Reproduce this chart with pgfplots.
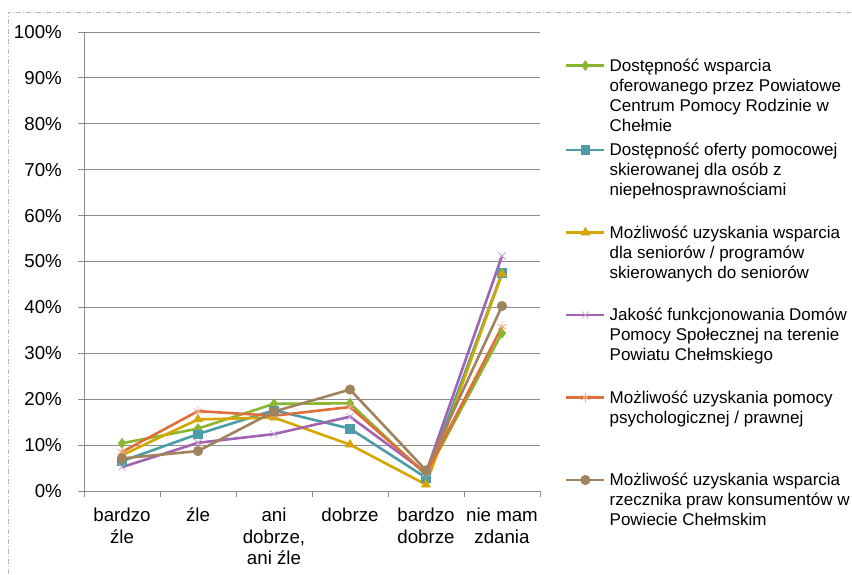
\documentclass[border=0pt]{standalone}
\usepackage{pgfplots}
\pgfplotsset{compat=1.18}
\usepackage{fontspec}
\setmainfont{Liberation Sans}
\definecolor{cgreen}{HTML}{89B830}
\definecolor{cteal}{HTML}{4B9EA8}
\definecolor{cgold}{HTML}{D4A600}
\definecolor{cpurple}{HTML}{A064B0}
\definecolor{corange}{HTML}{DE6E3C}
\definecolor{cbrown}{HTML}{A0825F}
\definecolor{cgrid}{HTML}{8C8C8C}
\newcommand{\lent}[2][81pt]{\rule{0pt}{#1}\parbox[t]{240pt}{\raggedright #2}}
\begin{document}
\begin{tikzpicture}
\useasboundingbox (0,0) rectangle (852pt,574pt);
\draw[gray!55, line width=0.6pt, dash pattern=on 5pt off 2pt on 1pt off 2pt] (8pt,0pt) -- (8pt,562pt) -- (852pt,562pt);
\begin{axis}[
  at={(84pt,83pt)}, anchor=south west,
  scale only axis, width=456pt, height=459pt,
  xmin=0.5, xmax=6.5, ymin=0, ymax=100,
  xtick={1,...,6},
  xticklabels={{bardzo\\źle},{źle},{ani\\dobrze,\\ani źle},{dobrze},{bardzo\\dobrze},{nie mam\\zdania}},
  minor xtick={0.5,1.5,...,6.5},
  ytick={0,10,...,100},
  yticklabel={\pgfmathprintnumber{\tick}\%},
  /pgf/number format/assume math mode=true,
  tick label style={font=\fontsize{18.7}{21.4}\selectfont, black},
  xticklabel style={align=center, anchor=north, inner sep=0pt, yshift=-11pt},
  yticklabel style={anchor=east, inner sep=0pt, xshift=-16pt},
  ymajorgrids, major grid style={cgrid, line width=0.9pt},
  axis line style={cgrid, line width=0.9pt},
  axis x line*=bottom, axis y line*=left,
  major x tick style={draw=none},
  minor x tick style={cgrid, line width=0.9pt},
  major y tick style={cgrid, line width=0.9pt},
  tick align=outside, major tick length=6pt, minor tick length=6pt,
  clip=false,
  every axis plot/.append style={line width=2.6pt},
  legend image code/.code={\draw[mark repeat=2,mark phase=2] plot coordinates {(0pt,5.5pt) (19pt,5.5pt) (38pt,5.5pt)};},
  legend cell align=left,
  legend style={at={(axis description cs:1.055,0.9455)}, anchor=north west, draw=none, fill=none,
    inner sep=0pt, outer sep=0pt, row sep=0pt, column sep=4pt,
    font=\fontsize{17}{20}\selectfont, nodes={inner sep=0pt}, cells={anchor=base west}},
]
\addplot[cgreen, mark=diamond*, mark size=5pt, mark options={solid, line width=0.5pt}] coordinates {(1,10.4) (2,13.6) (3,19.0) (4,19.1) (5,3.5) (6,34.4)};
\addlegendentry{\lent[14pt]{Dostępność wsparcia\\oferowanego przez Powiatowe\\Centrum Pomocy Rodzinie w\\Chełmie}}
\addplot[cteal, mark=square*, mark size=4.3pt, mark options={solid, line width=0.5pt}] coordinates {(1,6.5) (2,12.4) (3,17.6) (4,13.6) (5,2.9) (6,47.5)};
\addlegendentry{\lent[83pt]{Dostępność oferty pomocowej\\skierowanej dla osób z\\niepełnosprawnościami}}
\addplot[cgold, mark=triangle*, mark size=5.2pt, mark options={solid, line width=0.5pt}] coordinates {(1,7.8) (2,15.6) (3,16.0) (4,10.1) (5,1.4) (6,47.3)};
\addlegendentry{\lent{Możliwość uzyskania wsparcia\\dla seniorów / programów\\skierowanych do seniorów}}
\addplot[cpurple, mark=x, mark size=5pt, mark options={solid, line width=0.8pt, draw=cpurple!60}] coordinates {(1,5.2) (2,10.5) (3,12.4) (4,16.2) (5,4.0) (6,51.2)};
\addlegendentry{\lent{Jakość funkcjonowania Domów\\Pomocy Społecznej na terenie\\Powiatu Chełmskiego}}
\addplot[corange, mark=asterisk, mark size=5pt, mark options={solid, line width=0.8pt, draw=corange!60}] coordinates {(1,8.5) (2,17.4) (3,16.4) (4,18.3) (5,3.8) (6,35.8)};
\addlegendentry{\lent{Możliwość uzyskania pomocy\\psychologicznej / prawnej}}
\addplot[cbrown, mark=*, mark size=4.8pt, mark options={solid, line width=0.5pt}] coordinates {(1,7.1) (2,8.7) (3,17.3) (4,22.1) (5,4.5) (6,40.3)};
\addlegendentry{\lent{Możliwość uzyskania wsparcia\\rzecznika praw konsumentów w\\Powiecie Chełmskim}}
\end{axis}
\end{tikzpicture}
\end{document}
